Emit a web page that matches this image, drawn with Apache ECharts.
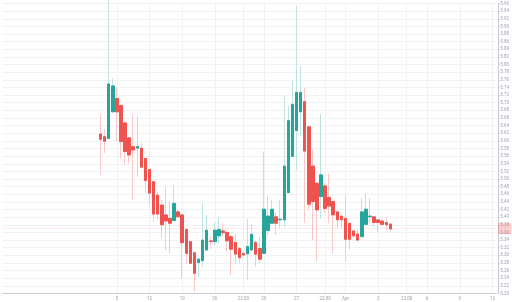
<!DOCTYPE html>
<html>
<head>
<meta charset="utf-8">
<style>html,body{margin:0;padding:0;background:#fff;}#chart{width:512px;height:302px;}</style>
<script src="https://cdn.jsdelivr.net/npm/echarts@6.0.0/dist/echarts.min.js"></script>
</head>
<body>
<div id="chart"></div>
<script>
// ---- data ----
const opens = [5.618,5.611,5.606,5.676,5.711,5.693,5.647,5.608,5.585,5.581,
  5.581,5.554,5.525,5.493,5.458,5.432,5.406,5.397,5.391,5.414,
  5.406,5.368,5.336,5.307,5.281,5.286,5.314,5.338,5.336,5.351,
  5.364,5.360,5.349,5.334,5.318,5.305,5.304,5.314,5.334,5.318,
  5.305,5.365,5.384,5.401,5.393,5.393,5.464,5.559,5.627,5.676,
  5.703,5.637,5.534,5.489,5.454,5.482,5.452,5.441,5.414,5.403,
  5.397,5.384,5.364,5.356,5.349,5.381,5.401,5.401,5.393,5.390,
  5.386,5.382];
const closes = [5.604,5.599,5.749,5.744,5.676,5.598,5.572,5.563,5.576,5.585,
  5.531,5.496,5.463,5.408,5.408,5.380,5.390,5.384,5.436,5.401,
  5.333,5.305,5.279,5.253,5.290,5.340,5.366,5.336,5.366,5.368,
  5.359,5.338,5.316,5.303,5.294,5.301,5.323,5.355,5.303,5.290,
  5.421,5.403,5.421,5.384,5.395,5.534,5.653,5.696,5.727,5.727,
  5.573,5.434,5.441,5.419,5.511,5.423,5.429,5.406,5.393,5.393,
  5.342,5.342,5.351,5.340,5.414,5.421,5.403,5.386,5.386,5.381,
  5.380,5.369];
const lows = [5.511,5.568,5.605,5.675,5.600,5.555,5.537,5.541,5.445,5.506,
  5.529,5.463,5.432,5.388,5.393,5.345,5.314,5.304,5.390,5.398,
  5.240,5.279,5.277,5.205,5.244,5.270,5.311,5.316,5.327,5.332,
  5.349,5.310,5.249,5.277,5.279,5.298,5.235,5.311,5.270,5.279,
  5.304,5.353,5.382,5.353,5.371,5.375,5.463,5.558,5.524,5.613,
  5.385,5.419,5.340,5.283,5.397,5.412,5.384,5.305,5.371,5.371,
  5.283,5.316,5.346,5.336,5.348,5.380,5.384,5.375,5.362,5.380,
  5.366,5.366];
const highs = [5.670,5.630,5.969,5.764,5.740,5.694,5.650,5.608,5.670,5.665,
  5.595,5.555,5.526,5.495,5.466,5.445,5.480,5.441,5.484,5.419,
  5.406,5.369,5.338,5.309,5.293,5.436,5.406,5.349,5.386,5.401,
  5.384,5.364,5.353,5.356,5.322,5.309,5.395,5.381,5.338,5.349,
  5.572,5.456,5.445,5.412,5.445,5.718,5.691,5.758,5.952,5.796,
  5.740,5.639,5.576,5.490,5.670,5.490,5.515,5.441,5.414,5.403,
  5.458,5.385,5.366,5.366,5.450,5.463,5.450,5.403,5.395,5.397,
  5.397,5.385];
// x-axis tick labels, positioned by candle index (future slots allowed)
const tickCandleIdx = [4,12,20,28,35,40,48,55,60,68,75,80,88,96];
const tickText = ['5','12','19','26','22:00','29','27','22:00','Apr','3','22:00','6','9','12'];
// price axis
const priceMin = 5.20, priceMax = 5.96, priceStep = 0.02;
const lastLabelSecondLine = '00:29';

// ---- build ----
const leadSlots = 24, totalSlots = 122;
const slotNames = Array.from({length: totalSlots}, (_, i) => 'slot' + i);
const tickMap = {};
tickCandleIdx.forEach((c, j) => { tickMap[leadSlots + c] = tickText[j]; });
const isTick = (idx) => tickMap[idx] !== undefined;

const wickData = opens.map((o, i) => [leadSlots + i, o, closes[i], lows[i], highs[i]]);
const bodyData = opens.map((o, i) => [leadSlots + i, o, closes[i], Math.min(o, closes[i]), Math.max(o, closes[i])]);
const lastClose = closes[closes.length - 1];

const UP = '#26a69a', DOWN = '#ef5350', UPW = '#bfe3df', DOWNW = '#f9c8c7';
const GRID = '#f0f3f6';
const LABEL = '#9ea2ac';
const FONT = 'Roboto, "Liberation Sans", sans-serif';

const chart = echarts.init(document.getElementById('chart'), null, {renderer: 'canvas'});
chart.setOption({
  animation: false,
  backgroundColor: '#ffffff',
  grid: {left: 2.6, right: 11.7, top: 3.5, bottom: 8.5, containLabel: false},
  xAxis: {
    type: 'category',
    data: slotNames,
    boundaryGap: false,
    axisLine: {show: true, lineStyle: {color: '#c9ccd4', width: 1}},
    axisTick: {show: false},
    axisLabel: {
      interval: (idx) => isTick(idx),
      formatter: (v, idx) => tickMap[idx] || '',
      fontSize: 4.5, color: LABEL, margin: 3, fontFamily: FONT, hideOverlap: false
    },
    splitLine: {show: true, interval: (idx) => isTick(idx), lineStyle: {color: GRID, width: 1}}
  },
  yAxis: {
    type: 'value',
    position: 'right',
    offset: 1.7,
    min: priceMin, max: priceMax, interval: priceStep,
    scale: true,
    axisLine: {show: true, lineStyle: {color: '#c9ccd4', width: 1}},
    axisTick: {show: true, length: 1.5, lineStyle: {color: '#c9ccd4'}},
    axisLabel: {
      formatter: (v) => v.toFixed(2),
      fontSize: 4.5, color: LABEL, margin: 2, fontFamily: FONT,
      showMinLabel: true, showMaxLabel: true
    },
    splitLine: {show: true, lineStyle: {color: GRID, width: 1}}
  },
  series: [
    {
      name: 'wick',
      type: 'candlestick',
      dimensions: ['slot', 'open', 'close', 'lowest', 'highest'],
      encode: {x: 'slot', y: ['open', 'close', 'lowest', 'highest']},
      data: wickData,
      barWidth: 1,
      clip: false,
      silent: true,
      itemStyle: {color: UPW, color0: DOWNW, borderColor: UPW, borderColor0: DOWNW, borderWidth: 1}
    },
    {
      name: 'body',
      type: 'candlestick',
      dimensions: ['slot', 'open', 'close', 'lowest', 'highest'],
      encode: {x: 'slot', y: ['open', 'close', 'lowest', 'highest']},
      data: bodyData,
      barWidth: 3,
      clip: false,
      silent: true,
      itemStyle: {color: UP, color0: DOWN, borderColor: UP, borderColor0: DOWN, borderWidth: 1},
      markLine: {
        silent: true,
        symbol: 'none',
        animation: false,
        data: [{yAxis: lastClose}],
        lineStyle: {color: DOWN, opacity: 0.3, type: [1, 2], width: 1},
        label: {
          show: true, position: 'end', distance: 1.5,
          formatter: () => lastClose.toFixed(2) + '\n' + lastLabelSecondLine,
          backgroundColor: DOWN, color: '#ffffff', fontSize: 4.5, lineHeight: 5,
          padding: [0.5, 1, 0.5, 1], fontFamily: FONT
        }
      }
    }
  ]
});
</script>
</body>
</html>
